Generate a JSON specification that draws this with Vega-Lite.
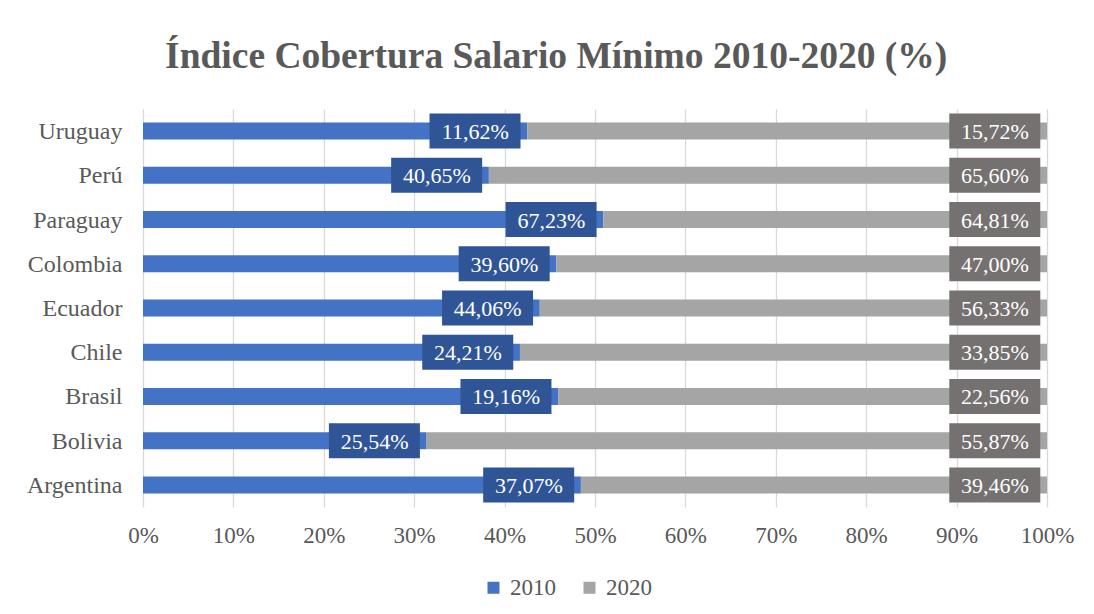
{
  "$schema": "https://vega.github.io/schema/vega-lite/v6.json",
  "autosize": {"type": "none"},
  "padding": {"left": 143, "top": 109, "right": 47, "bottom": 107},
  "width": 904,
  "height": 398,
  "background": "white",
  "title": {
    "text": "Índice Cobertura Salario Mínimo 2010-2020 (%)",
    "font": "Liberation Serif",
    "fontSize": 37.5,
    "fontWeight": "bold",
    "color": "#595959",
    "anchor": "middle",
    "frame": "bounds",
    "offset": 34,
    "dx": 6
  },
  "data": {
    "values": [
      {"country": "Argentina", "year": "2010", "value": 37.07},
      {"country": "Argentina", "year": "2020", "value": 39.46},
      {"country": "Bolivia", "year": "2010", "value": 25.54},
      {"country": "Bolivia", "year": "2020", "value": 55.87},
      {"country": "Brasil", "year": "2010", "value": 19.16},
      {"country": "Brasil", "year": "2020", "value": 22.56},
      {"country": "Chile", "year": "2010", "value": 24.21},
      {"country": "Chile", "year": "2020", "value": 33.85},
      {"country": "Ecuador", "year": "2010", "value": 44.06},
      {"country": "Ecuador", "year": "2020", "value": 56.33},
      {"country": "Colombia", "year": "2010", "value": 39.60},
      {"country": "Colombia", "year": "2020", "value": 47.00},
      {"country": "Paraguay", "year": "2010", "value": 67.23},
      {"country": "Paraguay", "year": "2020", "value": 64.81},
      {"country": "Perú", "year": "2010", "value": 40.65},
      {"country": "Perú", "year": "2020", "value": 65.60},
      {"country": "Uruguay", "year": "2010", "value": 11.62},
      {"country": "Uruguay", "year": "2020", "value": 15.72}
    ]
  },
  "transform": [
    {"stack": "value", "groupby": ["country"], "offset": "normalize", "sort": [{"field": "year", "order": "ascending"}], "as": ["v0", "v1"]},
    {"calculate": "replace(format(datum.value, '.2f'), '.', ',') + '%'", "as": "label"}
  ],
  "encoding": {
    "y": {
      "field": "country",
      "type": "nominal",
      "sort": ["Uruguay", "Perú", "Paraguay", "Colombia", "Ecuador", "Chile", "Brasil", "Bolivia", "Argentina"],
      "scale": {"paddingInner": 0.615, "paddingOuter": 0.305},
      "axis": {
        "title": null,
        "domain": false,
        "ticks": false,
        "labelPadding": 21,
        "labelFont": "Liberation Serif",
        "labelFontSize": 24,
        "labelColor": "#595959",
        "labelBaseline": "middle",
        "labelOffset": 1
      }
    }
  },
  "layer": [
    {
      "mark": {"type": "bar"},
      "encoding": {
        "x": {
          "field": "v0",
          "type": "quantitative",
          "scale": {"domain": [0, 1], "nice": false},
          "axis": {
            "title": null,
            "format": ".0%",
            "values": [0, 0.1, 0.2, 0.3, 0.4, 0.5, 0.6, 0.7, 0.8, 0.9, 1],
            "domain": false,
            "ticks": false,
            "grid": true,
            "gridColor": "#D9D9D9",
            "gridWidth": 1.3,
            "labelFlush": false,
            "labelOverlap": false,
            "labelPadding": 17,
            "labelFont": "Liberation Serif",
            "labelFontSize": 23,
            "labelColor": "#595959"
          }
        },
        "x2": {"field": "v1"},
        "color": {
          "field": "year",
          "type": "nominal",
          "scale": {"domain": ["2010", "2020"], "range": ["#4472C4", "#A5A5A5"]},
          "legend": {
            "title": null,
            "orient": "none",
            "direction": "horizontal",
            "legendX": 339,
            "legendY": 467,
            "symbolType": "square",
            "symbolSize": 144,
            "symbolStrokeWidth": 0,
            "labelFont": "Liberation Serif",
            "labelFontSize": 23,
            "labelColor": "#595959",
            "labelOffset": 5,
            "columnPadding": 22
          }
        }
      }
    },
    {
      "mark": {
        "type": "point",
        "shape": "M-9.77,-1.75H-0.67V1.75H-9.77Z",
        "size": 400,
        "filled": true,
        "opacity": 1,
        "strokeWidth": 0
      },
      "encoding": {
        "x": {"field": "v1", "type": "quantitative"},
        "fill": {
          "field": "year",
          "type": "nominal",
          "scale": {"domain": ["2010", "2020"], "range": ["#2F5597", "#767171"]},
          "legend": null
        }
      }
    },
    {
      "mark": {
        "type": "text",
        "dx": -52,
        "dy": 1,
        "align": "center",
        "baseline": "middle",
        "color": "white",
        "font": "Liberation Serif",
        "fontSize": 22
      },
      "encoding": {
        "x": {"field": "v1", "type": "quantitative"},
        "text": {"field": "label"}
      }
    }
  ],
  "config": {
    "view": {"stroke": null}
  }
}
